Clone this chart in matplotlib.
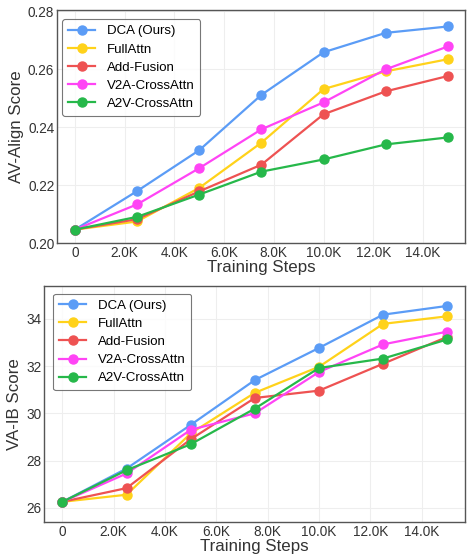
import numpy as np
import matplotlib.pyplot as plt

plt.rcParams['font.family'] = ['Liberation Sans', 'DejaVu Sans']

steps = [0, 2500, 5000, 7500, 10000, 12500, 15000]
methods = ['DCA (Ours)', 'FullAttn', 'Add-Fusion', 'V2A-CrossAttn', 'A2V-CrossAttn']
colors = ['#5b9cf6', '#ffd21a', '#ee5252', '#ff44f5', '#26b84a']

av_align = {
    'DCA (Ours)':    [0.2047, 0.2180, 0.2321, 0.2512, 0.2659, 0.2726, 0.2748],
    'FullAttn':      [0.2047, 0.2075, 0.2191, 0.2347, 0.2532, 0.2593, 0.2635],
    'Add-Fusion':    [0.2047, 0.2083, 0.2179, 0.2271, 0.2445, 0.2524, 0.2577],
    'V2A-CrossAttn': [0.2047, 0.2134, 0.2259, 0.2393, 0.2486, 0.2600, 0.2679],
    'A2V-CrossAttn': [0.2047, 0.2091, 0.2168, 0.2247, 0.2289, 0.2341, 0.2365],
}
va_ib = {
    'DCA (Ours)':    [26.25, 27.66, 29.51, 31.41, 32.77, 34.18, 34.55],
    'FullAttn':      [26.25, 26.55, 29.15, 30.87, 31.97, 33.79, 34.11],
    'Add-Fusion':    [26.25, 26.83, 28.90, 30.65, 30.96, 32.10, 33.24],
    'V2A-CrossAttn': [26.25, 27.45, 29.30, 30.00, 31.75, 32.92, 33.46],
    'A2V-CrossAttn': [26.25, 27.59, 28.69, 30.20, 31.92, 32.32, 33.13],
}

xticks = [0, 2000, 4000, 6000, 8000, 10000, 12000, 14000]
xticklabels = ['0'] + ['%.1fK' % (t / 1000) for t in xticks[1:]]

fig = plt.figure(figsize=(4.68, 5.54), dpi=100)
ax1 = fig.add_axes([0.122, 0.561, 0.872, 0.421])
ax2 = fig.add_axes([0.094, 0.058, 0.900, 0.426])


def style(ax, data, ylabel, anchor):
    for m, c in zip(methods, colors):
        ax.plot(steps, data[m], color=c, lw=1.6, marker='o', ms=6.5, label=m)
    ax.set_xticks(xticks)
    ax.set_xticklabels(xticklabels)
    ax.set_xlim(-720, 15700)
    ax.grid(True, color='#eeeeee', lw=0.8)
    ax.set_axisbelow(True)
    for s in ax.spines.values():
        s.set_color('#555555')
        s.set_linewidth(1.0)
    ax.tick_params(labelsize=9.8, length=0, pad=2, colors='#333333')
    ax.set_xlabel('Training Steps', fontsize=12.2, labelpad=0, color='#333333')
    ax.set_ylabel(ylabel, fontsize=12.2, labelpad=3, color='#333333')
    leg = ax.legend(loc='upper left', bbox_to_anchor=anchor, fontsize=9.5,
                    frameon=True, fancybox=True, borderpad=0.45,
                    labelspacing=0.45, handlelength=2.0, handletextpad=0.9,
                    borderaxespad=0.4)
    leg.get_frame().set_edgecolor('#555555')
    leg.get_frame().set_linewidth(0.8)


style(ax1, av_align, 'AV-Align Score', (0.0, 0.983))
ax1.set_ylim(0.20, 0.2805)
ax1.set_yticks([0.20, 0.22, 0.24, 0.26, 0.28])

style(ax2, va_ib, 'VA-IB Score', (0.01, 0.99))
ax2.set_ylim(25.4, 35.4)
ax2.set_yticks([26, 28, 30, 32, 34])

fig.savefig('out.png', dpi=100)
